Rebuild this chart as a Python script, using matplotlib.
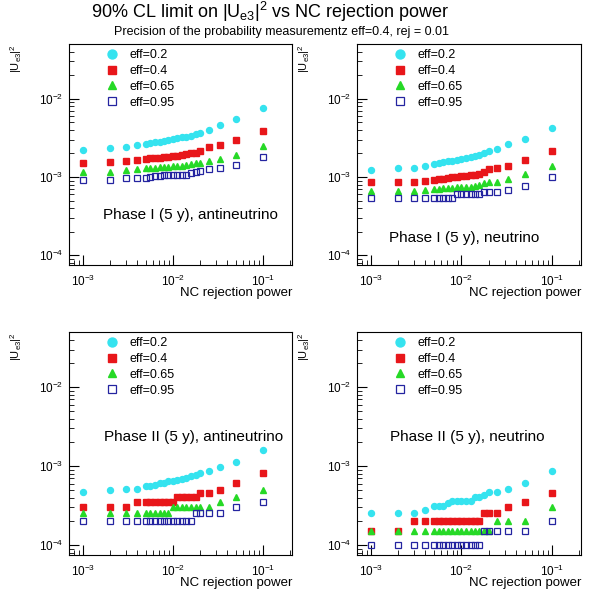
import matplotlib.pyplot as plt

plt.rcParams['font.family'] = ['Liberation Sans', 'DejaVu Sans']
plt.rcParams['mathtext.fontset'] = 'custom'
plt.rcParams['mathtext.rm'] = 'Liberation Sans'
plt.rcParams['mathtext.it'] = 'Liberation Sans:italic'

# NC rejection power (x values shared by every series)
rej = [0.001, 0.002, 0.003, 0.004, 0.005, 0.0056, 0.0063, 0.0071, 0.0079, 0.0089, 0.010,
       0.0112, 0.0126, 0.0141, 0.0158, 0.0178, 0.020, 0.025, 0.033, 0.05, 0.1]

effs = ['eff=0.2', 'eff=0.4', 'eff=0.65', 'eff=0.95']

# Phase I (5 y), antineutrino
p1_e020 = [2.2e-3, 2.35e-3, 2.45e-3, 2.55e-3, 2.65e-3, 2.7e-3, 2.76e-3, 2.82e-3, 2.9e-3, 2.97e-3, 3.05e-3,
           3.12e-3, 3.2e-3, 3.28e-3, 3.38e-3, 3.5e-3, 3.65e-3, 4.0e-3, 4.55e-3, 5.5e-3, 7.6e-3]
p1_e040 = [1.5e-3, 1.57e-3, 1.62e-3, 1.65e-3, 1.7e-3, 1.73e-3, 1.75e-3, 1.77e-3, 1.8e-3, 1.82e-3, 1.85e-3,
           1.88e-3, 1.9e-3, 1.95e-3, 2.0e-3, 2.05e-3, 2.17e-3, 2.4e-3, 2.57e-3, 2.98e-3, 3.92e-3]
p1_e065 = [1.17e-3, 1.17e-3, 1.23e-3, 1.26e-3, 1.29e-3, 1.3e-3, 1.31e-3, 1.33e-3, 1.34e-3, 1.35e-3, 1.37e-3,
           1.38e-3, 1.4e-3, 1.42e-3, 1.45e-3, 1.5e-3, 1.52e-3, 1.58e-3, 1.68e-3, 1.93e-3, 2.5e-3]
p1_e095 = [9.2e-4, 9.2e-4, 9.8e-4, 9.8e-4, 9.8e-4, 1.0e-3, 1.03e-3, 1.04e-3, 1.05e-3, 1.05e-3, 1.06e-3,
           1.06e-3, 1.06e-3, 1.07e-3, 1.11e-3, 1.15e-3, 1.2e-3, 1.25e-3, 1.29e-3, 1.42e-3, 1.8e-3]

# Phase I (5 y), neutrino
p2_e020 = [1.23e-3, 1.29e-3, 1.32e-3, 1.38e-3, 1.45e-3, 1.5e-3, 1.55e-3, 1.58e-3, 1.62e-3, 1.66e-3, 1.7e-3,
           1.75e-3, 1.8e-3, 1.85e-3, 1.92e-3, 2.0e-3, 2.15e-3, 2.3e-3, 2.62e-3, 3.04e-3, 4.2e-3]
p2_e040 = [8.5e-4, 8.5e-4, 8.7e-4, 8.9e-4, 9.2e-4, 9.4e-4, 9.5e-4, 9.7e-4, 1.0e-3, 1.01e-3, 1.02e-3,
           1.03e-3, 1.05e-3, 1.06e-3, 1.1e-3, 1.17e-3, 1.25e-3, 1.29e-3, 1.38e-3, 1.65e-3, 2.15e-3]
p2_e065 = [6.6e-4, 6.6e-4, 6.6e-4, 6.8e-4, 7.0e-4, 7.1e-4, 7.2e-4, 7.2e-4, 7.3e-4, 7.4e-4, 7.4e-4,
           7.5e-4, 7.5e-4, 7.6e-4, 7.8e-4, 8.3e-4, 8.7e-4, 8.7e-4, 9.3e-4, 1.08e-3, 1.38e-3]
p2_e095 = [5.4e-4, 5.4e-4, 5.4e-4, 5.4e-4, 5.4e-4, 5.4e-4, 5.4e-4, 5.4e-4, 5.4e-4, 6.0e-4, 6.0e-4,
           6.0e-4, 6.0e-4, 6.0e-4, 6.0e-4, 6.4e-4, 6.4e-4, 6.4e-4, 6.8e-4, 7.7e-4, 9.9e-4]

# Phase II (5 y), antineutrino
p3_e020 = [4.69e-4, 4.93e-4, 5.1e-4, 5.1e-4, 5.55e-4, 5.65e-4, 5.8e-4, 6.1e-4, 6.2e-4, 6.4e-4, 6.5e-4,
           6.75e-4, 6.9e-4, 7.1e-4, 7.5e-4, 7.8e-4, 8.2e-4, 8.6e-4, 9.7e-4, 1.12e-3, 1.59e-3]
p3_e040 = [3.07e-4, 3.07e-4, 3.07e-4, 3.55e-4, 3.55e-4, 3.55e-4, 3.55e-4, 3.55e-4, 3.55e-4, 3.55e-4, 3.55e-4,
           4.05e-4, 4.05e-4, 4.05e-4, 4.05e-4, 4.05e-4, 4.55e-4, 4.55e-4, 5.0e-4, 6.1e-4, 8.2e-4]
p3_e065 = [2.52e-4, 2.52e-4, 2.52e-4, 2.52e-4, 2.52e-4, 2.52e-4, 2.52e-4, 2.52e-4, 2.52e-4, 2.52e-4, 3.0e-4,
           3.0e-4, 3.0e-4, 3.0e-4, 3.0e-4, 3.0e-4, 3.0e-4, 3.0e-4, 3.55e-4, 4.05e-4, 5.0e-4]
p3_e095 = [2.02e-4, 2.02e-4, 2.02e-4, 2.02e-4, 2.02e-4, 2.02e-4, 2.02e-4, 2.02e-4, 2.02e-4, 2.02e-4, 2.02e-4,
           2.02e-4, 2.02e-4, 2.02e-4, 2.02e-4, 2.52e-4, 2.52e-4, 2.52e-4, 2.52e-4, 3.07e-4, 3.55e-4]

# Phase II (5 y), neutrino
p4_e020 = [2.57e-4, 2.57e-4, 2.57e-4, 2.8e-4, 3.13e-4, 3.13e-4, 3.13e-4, 3.38e-4, 3.63e-4, 3.63e-4, 3.63e-4,
           3.63e-4, 3.63e-4, 4.12e-4, 4.12e-4, 4.33e-4, 4.64e-4, 4.64e-4, 5.12e-4, 6.1e-4, 8.6e-4]
p4_e040 = [1.51e-4, 1.51e-4, 2.02e-4, 2.02e-4, 2.02e-4, 2.02e-4, 2.02e-4, 2.02e-4, 2.02e-4, 2.02e-4, 2.02e-4,
           2.02e-4, 2.02e-4, 2.02e-4, 2.02e-4, 2.52e-4, 2.52e-4, 2.52e-4, 3.07e-4, 3.55e-4, 4.55e-4]
p4_e065 = [1.51e-4, 1.51e-4, 1.51e-4, 1.51e-4, 1.51e-4, 1.51e-4, 1.51e-4, 1.51e-4, 1.51e-4, 1.51e-4, 1.51e-4,
           1.51e-4, 1.51e-4, 1.51e-4, 1.51e-4, 1.51e-4, 1.51e-4, 2.02e-4, 2.02e-4, 2.02e-4, 3.07e-4]
p4_e095 = [1.01e-4, 1.01e-4, 1.01e-4, 1.01e-4, 1.01e-4, 1.01e-4, 1.01e-4, 1.01e-4, 1.01e-4, 1.01e-4, 1.01e-4,
           1.01e-4, 1.01e-4, 1.01e-4, 1.01e-4, 1.51e-4, 1.51e-4, 1.51e-4, 1.51e-4, 1.51e-4, 2.02e-4]

panel_titles = ['Phase I (5 y), antineutrino', 'Phase I (5 y), neutrino',
                'Phase II (5 y), antineutrino', 'Phase II (5 y), neutrino']
panel_series = [[p1_e020, p1_e040, p1_e065, p1_e095],
                [p2_e020, p2_e040, p2_e065, p2_e095],
                [p3_e020, p3_e040, p3_e065, p3_e095],
                [p4_e020, p4_e040, p4_e065, p4_e095]]

# marker styles for the four efficiencies
styles = [dict(marker='o', color='#35e3ef', mfc='#35e3ef', mec='#35e3ef'),
          dict(marker='s', color='#e8161a', mfc='#e8161a', mec='#e8161a'),
          dict(marker='^', color='#26d926', mfc='#26d926', mec='#26d926'),
          dict(marker='s', color='#2424a0', mfc='none', mec='#2424a0', mew=0.9)]

W, H = 589, 598
fig = plt.figure(figsize=(W / 100, H / 100), dpi=100)

# axes boxes in pixels: left, top, right, bottom
boxes = [(69, 44, 292, 265), (357, 44, 581, 265), (69, 332, 292, 555), (357, 332, 581, 555)]
text_pos = [(0.545, 0.228), (0.48, 0.122), (0.56, 0.53), (0.49, 0.53)]

for k in range(4):
    l, t, r, b = boxes[k]
    ax = fig.add_axes([l / W, 1 - b / H, (r - l) / W, (b - t) / H])
    for vals, lab, st in zip(panel_series[k], effs, styles):
        ax.plot(rej, vals, ls='none', ms=4.3, label=lab, **st)
    ax.set_xscale('log')
    ax.set_yscale('log')
    ax.set_xlim(7e-4, 0.21)
    ax.set_ylim(7.5e-5, 5e-2)
    ax.tick_params(which='both', direction='in', top=False, right=False, labelsize=8.5)
    ax.tick_params(which='major', length=7, pad=6)
    ax.tick_params(which='minor', length=3.5)
    ax.tick_params(axis='y', which='major', pad=4)
    ax.set_xlabel('NC rejection power', fontsize=9.5, loc='right', labelpad=-1)
    ax.set_ylabel(r'$\mathrm{|U_{e3}|^2}$', fontsize=8, loc='top')
    ax.yaxis.set_label_coords(-0.2, 1.0)
    ax.text(text_pos[k][0], text_pos[k][1], panel_titles[k], transform=ax.transAxes,
            ha='center', va='center', fontsize=11)
    ax.legend(loc='upper left', bbox_to_anchor=(0.13, 1.01), frameon=False, fontsize=9,
              markerscale=1.5, handlelength=1.0, handletextpad=0.9, labelspacing=0.3,
              borderaxespad=0.2)

fig.text(270 / W, 1 - 12 / H, r'90% CL limit on $\mathrm{|U_{e3}|^2}$ vs NC rejection power',
         ha='center', va='center', fontsize=13)
fig.text(282 / W, 1 - 32 / H, 'Precision of the probability measurementz eff=0.4, rej = 0.01',
         ha='center', va='center', fontsize=9)

fig.savefig('out.png', dpi=100)
